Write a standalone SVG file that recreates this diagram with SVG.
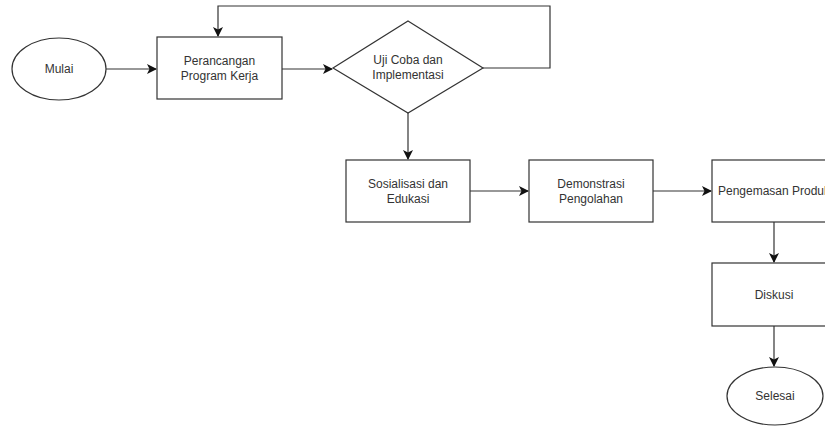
<svg xmlns="http://www.w3.org/2000/svg" width="825" height="430" viewBox="0 0 825 430">
<style>
.s{fill:#ffffff;stroke:#333333;stroke-width:1.2}
.t{font-family:"Liberation Sans",Arial,sans-serif;font-size:12px;fill:#333333;text-anchor:middle}
.c{fill:none;stroke:#333333;stroke-width:1.2}
</style>
<defs>
<marker id="a" viewBox="0 0 10 10" refX="9" refY="5" markerWidth="10" markerHeight="10" markerUnits="userSpaceOnUse" orient="auto">
<path d="M0,0 L10,5 L0,10 L2.5,5 Z" fill="#111111"/>
</marker>
</defs>
<rect width="825" height="430" fill="#ffffff"/>
<g id="connectors">
<path class="c" d="M106,69 L156,69" marker-end="url(#a)"/>
<path class="c" d="M282,69 L332,69" marker-end="url(#a)"/>
<path class="c" d="M483,68 L550,68 L550,6 L218,6 L218,36" marker-end="url(#a)"/>
<path class="c" d="M408,113 L408,159" marker-end="url(#a)"/>
<path class="c" d="M470,191 L528,191" marker-end="url(#a)"/>
<path class="c" d="M653,191 L711,191" marker-end="url(#a)"/>
<path class="c" d="M774,222 L774,262" marker-end="url(#a)"/>
<path class="c" d="M774,326 L774,366" marker-end="url(#a)"/>
</g>
<g id="mulai">
<ellipse class="s" cx="59" cy="69" rx="47" ry="31"/>
<text class="t" x="59" y="73">Mulai</text>
</g>
<g id="perancangan">
<rect class="s" x="157" y="37" width="125" height="62"/>
<text class="t" x="219.5" y="65">Perancangan</text>
<text class="t" x="219.5" y="80">Program Kerja</text>
</g>
<g id="ujicoba">
<polygon class="s" points="408,21 483,68 408,113 333,68"/>
<text class="t" x="408" y="64">Uji Coba dan</text>
<text class="t" x="408" y="79">Implementasi</text>
</g>
<g id="sosialisasi">
<rect class="s" x="346" y="160" width="124" height="62"/>
<text class="t" x="408" y="188">Sosialisasi dan</text>
<text class="t" x="408" y="203">Edukasi</text>
</g>
<g id="demonstrasi">
<rect class="s" x="529" y="160" width="124" height="62"/>
<text class="t" x="591" y="188">Demonstrasi</text>
<text class="t" x="591" y="203">Pengolahan</text>
</g>
<g id="pengemasan">
<rect class="s" x="712" y="160" width="124" height="62"/>
<text class="t" x="774" y="195">Pengemasan Produk</text>
</g>
<g id="diskusi">
<rect class="s" x="712" y="263" width="124" height="63"/>
<text class="t" x="774" y="299">Diskusi</text>
</g>
<g id="selesai">
<ellipse class="s" cx="775" cy="396" rx="48" ry="29"/>
<text class="t" x="775" y="400">Selesai</text>
</g>
</svg>
